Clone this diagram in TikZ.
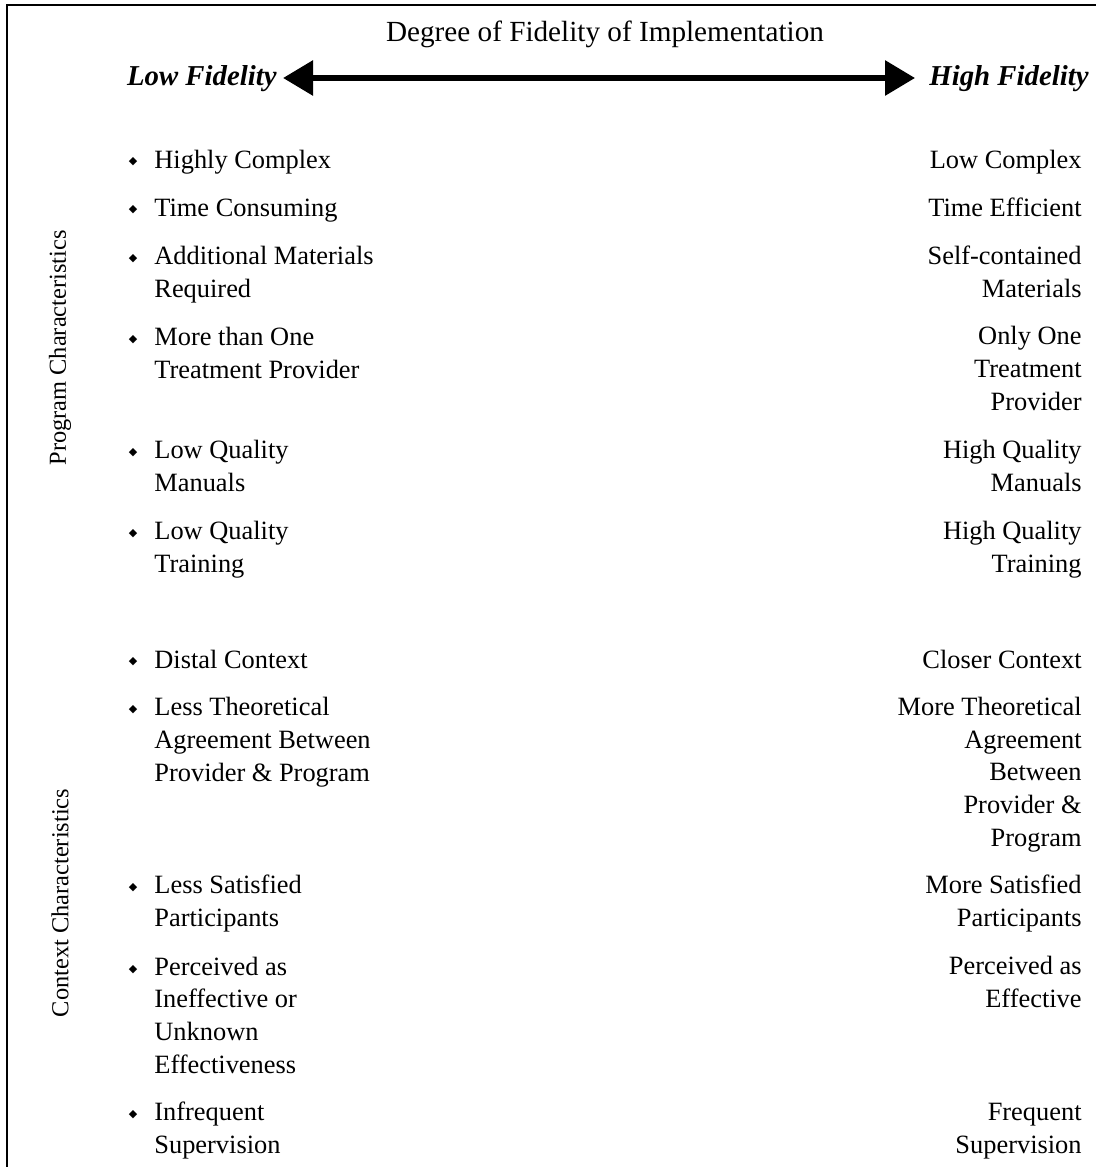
\documentclass[tikz,border=0pt]{standalone}
\usepackage{fontspec}
\setmainfont{Liberation Serif}
\newfontfamily\symfont{DejaVu Sans}
\usetikzlibrary{arrows.meta}
\newcommand{\bul}{\llap{\raisebox{1.6pt}{\symfont\fontsize{5.5}{6}\selectfont ◆}\hspace{8.5pt}}}

\begin{document}
\begin{tikzpicture}[x=0.5pt,y=-0.5pt,font=\fontsize{13.2}{16.3}\selectfont]
  \tikzstyle{low}=[anchor=base west,align=left,inner sep=0pt]
  \tikzstyle{high}=[anchor=base east,align=right,inner sep=0pt]
  \tikzstyle{side}=[rotate=90,inner sep=0pt,font=\fontsize{12.2}{14}\selectfont]
  \tikzstyle{pole}=[inner sep=0pt,font=\fontsize{14.4}{16.3}\selectfont\bfseries\itshape]
  \useasboundingbox (0,0) rectangle (1096,1167);
  \draw[line width=1pt] (7,1167) -- (7,5) -- (1096,5);

  \node [anchor=base,inner sep=0pt,font=\fontsize{14.6}{16.3}\selectfont] (title) at (605,41) {Degree of Fidelity of Implementation};
  \node [pole,anchor=base east] (lofi) at (277,85) {Low Fidelity};
  \node [pole,anchor=base west] (hifi) at (929,85) {High Fidelity};
  \coordinate (l) at (283,78);
  \coordinate (r) at (915,78);
  \draw [{Triangle[length=15pt,width=17pt]}-{Triangle[length=15pt,width=17pt]},line width=3pt] (l) -- (r);

  \node [side] (prog) at (60,348) {Program Characteristics};
  \node [side] (ctx) at (60,903) {Context Characteristics};

  % program characteristics (multi-line nodes sit on their last line)
  \node [low] (cplx-lo) at (154,168) {\bul Highly Complex};
  \node [low] (time-lo) at (154,216) {\bul Time Consuming};
  \node [low] (mat-lo) at (154,297) {\bul Additional Materials\\Required};
  \node [low] (prov-lo) at (154,378) {\bul More than One\\Treatment Provider};
  \node [low] (man-lo) at (154,491) {\bul Low Quality\\Manuals};
  \node [low] (trn-lo) at (154,572) {\bul Low Quality\\Training};
  \node [high] (cplx-hi) at (1082,168) {Low Complex};
  \node [high] (time-hi) at (1082,216) {Time Efficient};
  \node [high] (mat-hi) at (1082,297) {Self-contained\\Materials};
  \node [high] (prov-hi) at (1082,410) {Only One\\Treatment\\Provider};
  \node [high] (man-hi) at (1082,491) {High Quality\\Manuals};
  \node [high] (trn-hi) at (1082,572) {High Quality\\Training};

  % context characteristics
  \node [low] (cont-lo) at (154,668) {\bul Distal Context};
  \node [low] (agr-lo) at (154,781) {\bul Less Theoretical\\Agreement Between\\Provider \& Program};
  \node [low] (sat-lo) at (154,926) {\bul Less Satisfied\\Participants};
  \node [low] (eff-lo) at (154,1073) {\bul Perceived as\\Ineffective or\\Unknown\\Effectiveness};
  \node [low] (sup-lo) at (154,1153) {\bul Infrequent\\Supervision};
  \node [high] (cont-hi) at (1082,668) {Closer Context};
  \node [high] (agr-hi) at (1082,846) {More Theoretical\\Agreement\\Between\\Provider \&\\Program};
  \node [high] (sat-hi) at (1082,926) {More Satisfied\\Participants};
  \node [high] (eff-hi) at (1082,1007) {Perceived as\\Effective};
  \node [high] (sup-hi) at (1082,1153) {Frequent\\Supervision};
\end{tikzpicture}
\end{document}
